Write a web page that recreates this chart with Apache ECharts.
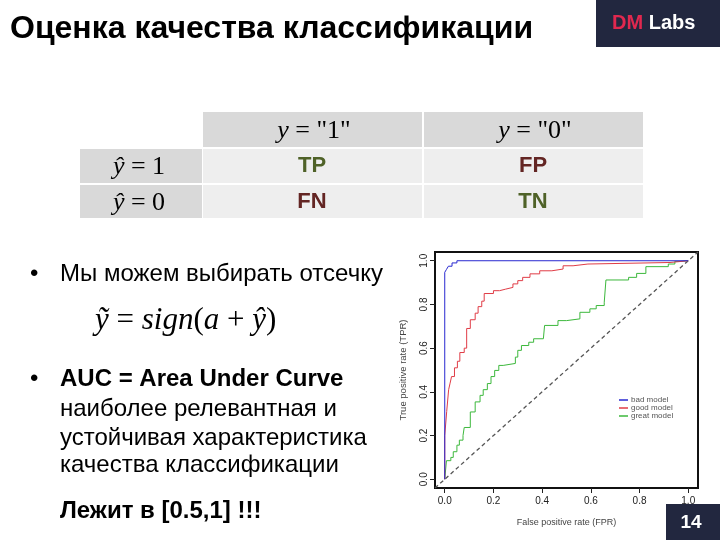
<!DOCTYPE html>
<html><head><meta charset="utf-8">
<script src="https://cdn.jsdelivr.net/npm/echarts@6/dist/echarts.min.js"></script>
<style>html,body{margin:0;padding:0;background:#fff}#c{width:720px;height:540px}</style>
</head><body><div id="c"></div>
<script>
// ---- data ----
const seriesNames = ['bad model', 'good model', 'great model'];
const blueX = [0, 0, 0.007, 0.015, 0.03, 0.05, 1];
const blueY = [0, 0.947, 0.96, 0.975, 0.99, 1, 1];
const redX = [0, 0, 0.008, 0.016, 0.022, 0.028, 0.04, 0.052, 0.062, 0.08, 0.09, 0.105, 0.125, 0.137, 0.152, 0.162, 0.2, 0.225, 0.25, 0.28, 0.3, 0.32, 0.35, 0.39, 0.44, 0.486, 0.527, 0.588, 0.925, 1];
const redY = [0, 0.2, 0.31, 0.41, 0.44, 0.47, 0.51, 0.54, 0.58, 0.6, 0.69, 0.73, 0.76, 0.79, 0.815, 0.85, 0.863, 0.87, 0.878, 0.894, 0.909, 0.924, 0.94, 0.954, 0.962, 0.977, 0.985, 0.992, 1, 1];
const greenX = [0, 0.007, 0.025, 0.035, 0.05, 0.06, 0.075, 0.08, 0.105, 0.125, 0.145, 0.158, 0.175, 0.19, 0.205, 0.222, 0.24, 0.29, 0.3, 0.315, 0.345, 0.365, 0.405, 0.41, 0.465, 0.5, 0.555, 0.596, 0.622, 0.655, 0.662, 0.755, 0.788, 0.826, 0.918, 0.945, 0.966, 1];
const greenY = [0, 0.085, 0.1, 0.126, 0.156, 0.179, 0.2, 0.237, 0.308, 0.354, 0.384, 0.41, 0.438, 0.47, 0.498, 0.521, 0.53, 0.559, 0.59, 0.612, 0.627, 0.643, 0.65, 0.704, 0.726, 0.734, 0.764, 0.78, 0.795, 0.81, 0.912, 0.924, 0.942, 0.973, 0.985, 0.997, 1, 1];
const diagX = [-0.04, 1.04];
const diagY = [-0.04, 1.04];
const tickValues = [0, 0.2, 0.4, 0.6, 0.8, 1.0];
const xAxisName = 'False positive rate (FPR)';
const yAxisName = 'True positive rate (TPR)';
const seriesColors = ['#2828d0', '#e03c46', '#3cb83c'];

const zip = (xs, ys) => xs.map((x, i) => [x, ys[i]]);
const SANS = '"Liberation Sans", Arial, sans-serif';
const SERIF = '"Liberation Serif", "Times New Roman", serif';
const NAVY = '#22273f';

const chart = echarts.init(document.getElementById('c'), null, {renderer: 'canvas'});

function txt(x, y, text, font, fill, align) {
  return {type: 'text', x: x, y: y, style: {text: text, font: font, fill: fill || '#000', textAlign: align || 'left', textVerticalAlign: 'middle'}};
}
function rect(x, y, w, h, fill) {
  return {type: 'rect', shape: {x: x, y: y, width: w, height: h}, style: {fill: fill}, silent: true};
}
function mathTxt(x, y, text, size, align) {
  return {type: 'text', x: x, y: y, style: {text: text, font: size + 'px ' + SERIF, fill: '#000', textAlign: align || 'center', textVerticalAlign: 'middle',
    rich: {i: {font: 'italic ' + size + 'px ' + SERIF}}}};
}

const BODY = '24px ' + SANS;
const graphics = [
  // title
  txt(10, 29, 'Оценка качества классификации', 'bold 32px ' + SANS, '#000'),
  // DM Labs box
  rect(596, 0, 124, 47, NAVY),
  {type: 'text', x: 612, y: 23, style: {text: '{r|DM} {w|Labs}', font: 'bold 20px ' + SANS, textVerticalAlign: 'middle',
    rich: {r: {fill: '#e0284f', font: 'bold 20px ' + SANS}, w: {fill: '#ffffff', font: 'bold 20px ' + SANS}}}},
  // table
  rect(203, 112, 219, 35, '#d9d9d9'), rect(424, 112, 219, 35, '#d9d9d9'),
  rect(80, 149, 122, 34, '#d9d9d9'), rect(80, 185, 122, 33, '#d9d9d9'),
  rect(203, 149, 219, 34, '#eeeeee'), rect(424, 149, 219, 34, '#eeeeee'),
  rect(203, 185, 219, 33, '#eeeeee'), rect(424, 185, 219, 33, '#eeeeee'),
  mathTxt(314, 131, '{i|y} = "1"', 26),
  mathTxt(535, 131, '{i|y} = "0"', 26),
  mathTxt(139, 167, '{i|ŷ} = 1', 26),
  mathTxt(139, 203, '{i|ŷ} = 0', 26),
  txt(312, 166, 'TP', 'bold 22px ' + SANS, '#4f6228', 'center'),
  txt(533, 166, 'FP', 'bold 22px ' + SANS, '#632523', 'center'),
  txt(312, 202, 'FN', 'bold 22px ' + SANS, '#632523', 'center'),
  txt(533, 202, 'TN', 'bold 22px ' + SANS, '#4f6228', 'center'),
  // left text
  txt(30, 274, '•', BODY, '#000'),
  txt(60, 274, 'Мы можем выбирать отсечку', BODY, '#000'),
  mathTxt(95, 321, '{i|ỹ} = {i|sign}({i|a} + {i|ŷ})', 31, 'left'),
  txt(30, 379, '•', BODY, '#000'),
  txt(60, 379, 'AUC = Area Under Curve', 'bold ' + BODY, '#000'),
  txt(60, 409, 'наиболее релевантная и', BODY, '#000'),
  txt(60, 438, 'устойчивая характеристика', BODY, '#000'),
  txt(60, 465, 'качества классификации', BODY, '#000'),
  txt(60, 511, 'Лежит в [0.5,1] !!!', 'bold ' + BODY, '#000'),
  // page number
  rect(666, 504, 54, 36, NAVY),
  txt(691, 523, '14', 'bold 19px ' + SANS, '#ffffff', 'center')
];

const axisCommon = {
  type: 'value', min: -0.04, max: 1.04,
  splitLine: {show: false},
  axisLine: {show: false, onZero: false},
  axisTick: {show: true, inside: false, length: 5, customValues: tickValues, lineStyle: {color: '#222', width: 1}},
  nameLocation: 'middle'
};

chart.setOption({
  backgroundColor: '#ffffff',
  animation: false,
  color: seriesColors,
  grid: {left: 435, top: 252, width: 263, height: 236, show: true, borderColor: '#111', borderWidth: 2, backgroundColor: 'transparent', containLabel: false},
  xAxis: Object.assign({}, axisCommon, {
    name: xAxisName, nameGap: 30,
    nameTextStyle: {fontFamily: SANS, fontSize: 9, color: '#444'},
    axisLabel: {customValues: tickValues, formatter: v => v.toFixed(1), fontFamily: SANS, fontSize: 10, color: '#222', margin: 8}
  }),
  yAxis: Object.assign({}, axisCommon, {
    name: yAxisName, nameGap: 27,
    nameTextStyle: {fontFamily: SANS, fontSize: 9.5, color: '#444'},
    axisLabel: {customValues: tickValues, formatter: v => v.toFixed(1), rotate: 90, fontFamily: SANS, fontSize: 10, color: '#222', margin: 6}
  }),
  legend: {
    data: seriesNames, orient: 'vertical', left: 619, top: 396, icon: 'rect', itemWidth: 9, itemHeight: 1.5, itemGap: 0, padding: 0,
    textStyle: {fontFamily: SANS, fontSize: 8, color: '#555', lineHeight: 7.5, padding: [0, 0, 0, -2]}
  },
  series: [
    {type: 'line', name: 'diag', data: zip(diagX, diagY), symbol: 'none', clip: true, itemStyle: {color: '#555'}, lineStyle: {color: '#555', width: 1.3, type: [4, 3]}, silent: true},
    {type: 'line', name: seriesNames[2], data: zip(greenX, greenY), step: 'end', symbol: 'none', itemStyle: {color: seriesColors[2]}, lineStyle: {color: seriesColors[2], width: 1}},
    {type: 'line', name: seriesNames[1], data: zip(redX, redY), step: 'end', symbol: 'none', itemStyle: {color: seriesColors[1]}, lineStyle: {color: seriesColors[1], width: 1}},
    {type: 'line', name: seriesNames[0], data: zip(blueX, blueY), step: 'end', symbol: 'none', itemStyle: {color: seriesColors[0]}, lineStyle: {color: seriesColors[0], width: 1}}
  ],
  graphic: graphics
});
</script>
</body></html>
